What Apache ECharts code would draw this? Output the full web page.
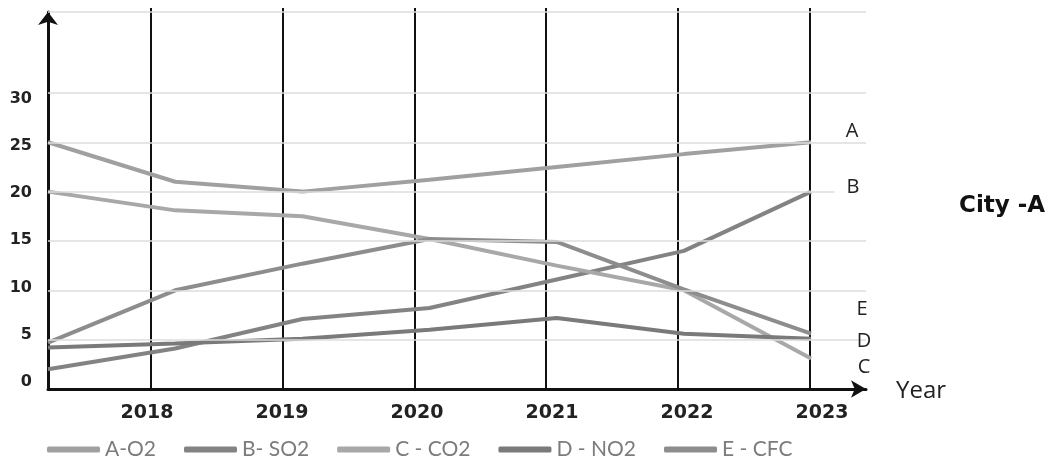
<!DOCTYPE html>
<html>
<head>
<meta charset="utf-8">
<script src="https://cdn.jsdelivr.net/npm/echarts@6/dist/echarts.min.js"></script>
<style>
html,body{margin:0;padding:0;background:#fff;}
#chart{width:1048px;height:459px;}
</style>
</head>
<body>
<div id="chart"></div>
<script>
// ---- data ----
const pointYears = [2017, 2018, 2019, 2020, 2021, 2022, 2023];
const yearLabels = [2018, 2019, 2020, 2021, 2022, 2023];
const seriesNames = ['A-O2', 'B- SO2', 'C - CO2', 'D - NO2', 'E - CFC'];
const o2  = [25, 21, 20, 21.2, 22.5, 23.8, 25];
const so2 = [2, 4.1, 7.1, 8.2, 11.1, 14, 20];
const co2 = [20, 18.1, 17.5, 15.2, 12.5, 10, 3.1];
const no2 = [4.2, 4.6, 5.1, 6.0, 7.2, 5.6, 5.1];
const cfc = [4.7, 10, 12.7, 15.2, 14.9, 10.1, 5.6];
const yTicks = [0, 5, 10, 15, 20, 25, 30];
const yTop = 38.2;
const endTags = ['A', 'B', 'E', 'D', 'C'];
const axisTitle = 'Year';
const cityTitle = 'City -A';

// ---- chart ----
const values = [o2, so2, co2, no2, cfc];
const colors = ['#a0a0a0', '#838383', '#a8a8a8', '#7a7a7a', '#8d8d8d'];
const W = 1048, H = 459;

const chart = echarts.init(document.getElementById('chart'), null, {renderer: 'canvas'});

const series = values.map((vals, i) => ({
  name: seriesNames[i],
  type: 'line',
  xAxisIndex: 0,
  yAxisIndex: 0,
  data: pointYears.map((y, k) => [y, vals[k]]),
  symbol: 'none',
  color: colors[i],
  lineStyle: {width: 4, color: colors[i]},
  z: 3,
  silent: true
}));

// light horizontal gridlines
series.unshift({
  name: '__grid',
  type: 'line',
  xAxisIndex: 0,
  yAxisIndex: 0,
  data: [],
  z: 1,
  silent: true,
  markLine: {
    silent: true,
    symbol: 'none',
    label: {show: false},
    lineStyle: {color: '#dcdcdc', width: 1.5, type: 'solid'},
    data: yTicks.filter(v => v > 0).concat([yTop]).map(v => ({yAxis: v}))
  }
});

const tagPos = [[852, 131], [853, 187], [862, 309], [864, 341], [864, 367]];
const graphic = endTags.map((t, i) => ({
  type: 'text', x: tagPos[i][0], y: tagPos[i][1], z: 10,
  style: {text: t, fill: '#222', font: '20px "Open Sans"', textAlign: 'center', textVerticalAlign: 'middle',
    backgroundColor: i < 2 ? '#fff' : 'transparent', padding: i < 2 ? [0, 12] : 0}
}));
graphic.push({
  type: 'text', x: 921, y: 391, z: 10,
  style: {text: axisTitle, fill: '#222', font: '24px "Open Sans"', textAlign: 'center', textVerticalAlign: 'middle'}
});
graphic.push({
  type: 'text', x: 959, y: 206, z: 10,
  style: {text: cityTitle, fill: '#111', font: 'bold 23px "DejaVu Sans"', textAlign: 'left', textVerticalAlign: 'middle'}
});

const option = {
  animation: false,
  backgroundColor: '#fff',
  grid: [
    {left: 48, right: W - 866, top: 12, bottom: H - 389},        // data
    {left: 151, right: W - 809.5, top: 8, bottom: H - 389},      // vertical year lines
    {left: 147, right: W - 822, top: 8, bottom: H - 389},        // year labels
    {left: 48, right: W - 866, top: 98.5, bottom: H - 382}       // value labels
  ],
  xAxis: [
    {
      type: 'value', gridIndex: 0, min: 2017, max: 2023.432,
      axisLine: {show: true, onZero: false, lineStyle: {color: '#111', width: 3}, symbol: ['none', 'arrow'], symbolSize: [13, 15]},
      axisTick: {show: false}, axisLabel: {show: false}, splitLine: {show: false}
    },
    {
      type: 'value', gridIndex: 1, min: yearLabels[0], max: yearLabels[yearLabels.length - 1], interval: 1,
      axisLine: {show: false}, axisTick: {show: false}, axisLabel: {show: false},
      splitLine: {show: true, lineStyle: {color: '#111', width: 2}}
    },
    {
      type: 'value', gridIndex: 2, min: yearLabels[0], max: yearLabels[yearLabels.length - 1], interval: 1,
      axisLine: {show: false}, axisTick: {show: false}, splitLine: {show: false},
      axisLabel: {show: true, margin: 15, color: '#222', fontFamily: 'DejaVu Sans', fontWeight: 'bold', fontSize: 19,
        formatter: v => String(v)}
    },
    {type: 'value', gridIndex: 3, min: 0, max: 1, show: false}
  ],
  yAxis: [
    {
      type: 'value', gridIndex: 0, min: 0, max: yTop,
      axisLine: {show: true, onZero: false, lineStyle: {color: '#111', width: 3}, symbol: ['none', 'arrow'], symbolSize: [15, 13]},
      axisTick: {show: false}, axisLabel: {show: false}, splitLine: {show: false}
    },
    {type: 'value', gridIndex: 1, min: 0, max: 1, show: false},
    {type: 'value', gridIndex: 2, min: 0, max: 1, show: false},
    {
      type: 'value', gridIndex: 3, min: yTicks[0], max: yTicks[yTicks.length - 1], interval: 5,
      axisLine: {show: false}, axisTick: {show: false}, splitLine: {show: false},
      axisLabel: {show: true, margin: 16, color: '#222', fontFamily: 'DejaVu Sans', fontWeight: 'bold', fontSize: 16}
    }
  ],
  legend: {
    data: seriesNames,
    left: 42,
    top: 434,
    icon: 'roundRect',
    itemWidth: 53,
    itemHeight: 6,
    itemGap: 28,
    textStyle: {color: '#7c7c7c', fontSize: 21, fontFamily: 'Lato'},
    selectedMode: false
  },
  graphic: graphic,
  series: series
};
chart.setOption(option);
</script>
</body>
</html>
